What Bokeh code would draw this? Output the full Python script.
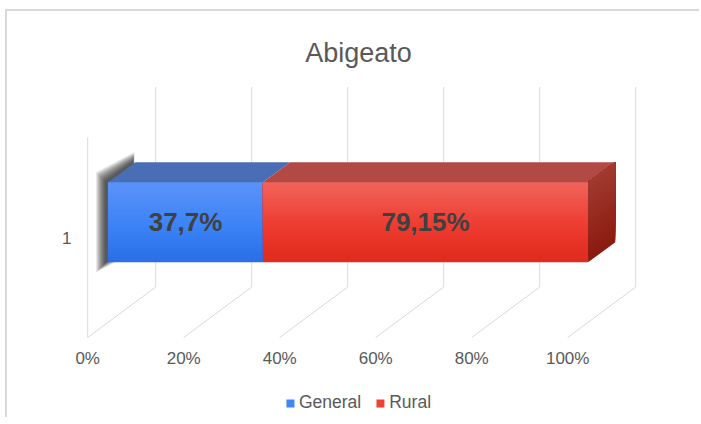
import numpy as np
from bokeh.plotting import figure
from bokeh.models import Range1d, FixedTicker, Legend, LegendItem, LinearAxis
from bokeh.embed import file_html
from bokeh.resources import INLINE
from bokeh.core.properties import value

# ---------------- data ----------------
title_text = "Abigeato"
categories = ["1"]
series_names = ["General", "Rural"]
general = [37.7]
rural = [79.15]
x_ticks = [0, 20, 40, 60, 80, 100]
x_tick_labels = ["0%", "20%", "40%", "60%", "80%", "100%"]

# ---------------- styles ----------------
FONT = "Liberation Sans"
TXT = "#595959"
GRID = "#d9d9d9"
front_stops = [  # (top, middle, bottom)
    ("#5c92f9", "#3b83f6", "#2a6de6"),
    ("#f0645b", "#ee3b30", "#df2a1d"),
]
top_face_colors = ["#4a6eb6", "#b14a45"]
side_stops = ("#a23a30", "#8a1a10")

# projection parameters (oblique 3D look)
PX = 4.8          # px per percent
PY = 200.0        # px per category unit
DX = 68 / PX      # full depth shift (x, data units)
DY = 50.5 / PY    # full depth shift (y, data units)
T0, T1 = 0.3, 0.7 # bar front / back depth fraction
BAR_H = 0.4
W, H = 694, 408
frame_w = 580
mb_left, mb_top = 61, 66
frame_h = H - mb_top
x_lo = -4.0
y_hi = 1.8

p = figure(width=W, height=H,
           x_range=Range1d(x_lo, x_lo + frame_w / PX),
           y_range=Range1d(y_hi - frame_h / PY, y_hi),
           output_backend="svg", toolbar_location=None,
           x_axis_type=None, y_axis_type=None,
           min_border_left=mb_left, min_border_right=W - mb_left - frame_w,
           min_border_top=mb_top, min_border_bottom=0,
           title=title_text)
p.xgrid.visible = False
p.ygrid.visible = False
p.outline_line_color = None
p.background_fill_color = "white"
p.border_fill_color = "white"
p.styles = {"border-left": "2px solid #d9d9d9", "border-top": "2px solid #d9d9d9",
            "margin-left": "5px", "margin-top": "9px"}

p.title.align = "center"
p.title.text_font = FONT
p.title.text_font_size = "27px"
p.title.text_font_style = "normal"
p.title.text_color = TXT
p.title.standoff = 19

def hex2rgb(h):
    h = h.lstrip("#")
    return np.array([int(h[i:i + 2], 16) for i in (0, 2, 4)], dtype=float)

def mix(c1, c2, f):
    c = hex2rgb(c1) * (1 - f) + hex2rgb(c2) * f
    return "#%02x%02x%02x" % tuple(int(round(v)) for v in c)

def grad3(top, mid, bot, f):  # f: 0 bottom .. 1 top
    if f < 0.45:
        return mix(bot, mid, f / 0.45)
    return mix(mid, top, (f - 0.45) / 0.55)

# ---------------- walls ----------------
lo_y, hi_y = 0.5, len(categories) + 0.5
tk = np.array(x_ticks, dtype=float)
p.segment(x0=tk + DX, y0=[lo_y + DY] * len(tk), x1=tk + DX, y1=[hi_y + DY] * len(tk),
          line_color=GRID, line_width=1)
p.segment(x0=tk, y0=[lo_y] * len(tk), x1=tk + DX, y1=[lo_y + DY] * len(tk),
          line_color=GRID, line_width=1)
p.segment(x0=[tk[0]], y0=[lo_y], x1=[tk[0]], y1=[hi_y], line_color=GRID, line_width=1)

# ---------------- bars ----------------
N = 30
values = np.array([general, rural], dtype=float)  # series x category
totals = values.sum(axis=0)
shares = values / totals * 100
cum = np.vstack([np.zeros(len(categories)), np.cumsum(shares, axis=0)])
front_renderers = []

for ci, cat in enumerate(categories):
    c = ci + 1
    yb = c - BAR_H / 2
    yt = c + BAR_H / 2
    # soft shadow around the left side face
    fbx, fby = cum[0, ci] + T0 * DX, yb + T0 * DY
    ftx, fty = cum[0, ci] + T0 * DX, yt + T0 * DY
    btx, bty = cum[0, ci] + T1 * DX, yt + T1 * DY
    bbx, bby = cum[0, ci] + T1 * DX, yb + T1 * DY
    sh_xs, sh_ys = [], []
    for e in [10, 9, 8, 7, 6, 5, 4, 3, 2, 1]:
        ex, ey = e / PX, e / PY
        sx = -2.0 / PX
        sh_xs.append([fbx - ex + sx, ftx - ex + sx, btx + 0.1 * ex + sx, bbx + 0.1 * ex + sx])
        sh_ys.append([fby - ey, fty + ey, bty + ey, bby - ey])
    p.patches(xs=sh_xs, ys=sh_ys, fill_color="#111111", fill_alpha=0.11, line_color=None)

    for si in range(len(series_names)):
        s0, s1 = cum[si, ci], cum[si + 1, ci]
        h = BAR_H
        lefts = [s0 + T0 * DX] * N
        rights = [s1 + T0 * DX] * N
        bottoms = [yb + T0 * DY + k * h / N for k in range(N)]
        tops = [yt + T0 * DY] * N
        cols = [grad3(*front_stops[si], (k + 0.5) / N) for k in range(N)]
        r = p.quad(left=lefts, right=rights, bottom=bottoms, top=tops,
                   fill_color=cols, line_color=None)
        if ci == 0:
            front_renderers.append(r)
        p.patch(x=[s0 + T0 * DX, s1 + T0 * DX, s1 + T1 * DX, s0 + T1 * DX],
                y=[yt + T0 * DY, yt + T0 * DY, yt + T1 * DY, yt + T1 * DY],
                fill_color=top_face_colors[si], line_color=None)

    send = cum[-1, ci]
    xs_side, ys_side, cols_side = [], [], []
    for k in range(N):
        yk = yb + k * BAR_H / N
        xs_side.append([send + T0 * DX, send + T0 * DX, send + T1 * DX, send + T1 * DX])
        ys_side.append([yk + T0 * DY, yt + T0 * DY, yt + T1 * DY, yk + T1 * DY])
        cols_side.append(mix(side_stops[1], side_stops[0], (k + 0.5) / N))
    p.patches(xs=xs_side, ys=ys_side, fill_color=cols_side, line_color=None)

    lab_x, lab_y, lab_t = [], [], []
    for si, vals in enumerate([general, rural]):
        lab_x.append((cum[si, ci] + cum[si + 1, ci]) / 2 + T0 * DX)
        lab_y.append(c + T0 * DY)
        lab_t.append(("%g" % vals[ci]).replace(".", ",") + "%")
    p.text(x=lab_x, y=lab_y, text=lab_t, text_font=value(FONT), text_font_style="bold",
           text_font_size="26px", text_color="#404040", text_align="center",
           text_baseline="middle")

# ---------------- axes ----------------
xaxis = LinearAxis(ticker=FixedTicker(ticks=x_ticks), fixed_location=lo_y,
                   major_label_overrides=dict(zip(x_ticks, x_tick_labels)))
xaxis.axis_line_color = None
xaxis.major_tick_line_color = None
xaxis.minor_tick_line_color = None
xaxis.major_label_standoff = 5
xaxis.major_label_text_font = FONT
xaxis.major_label_text_font_size = "17px"
xaxis.major_label_text_color = TXT
p.add_layout(xaxis, "below")

y_ticks = [i + 1 for i in range(len(categories))]
yaxis = LinearAxis(ticker=FixedTicker(ticks=y_ticks),
                   major_label_overrides=dict(zip(y_ticks, categories)))
yaxis.axis_line_color = None
yaxis.major_tick_line_color = None
yaxis.minor_tick_line_color = None
yaxis.major_label_standoff = -9
yaxis.major_label_text_font = FONT
yaxis.major_label_text_font_size = "17px"
yaxis.major_label_text_color = TXT
yaxis.major_label_orientation = "horizontal"
p.add_layout(yaxis, "left")

# ---------------- legend ----------------
items = [LegendItem(label=name, renderers=[r], index=N // 2)
         for name, r in zip(series_names, front_renderers)]
legend = Legend(items=items, orientation="horizontal", location="bottom_center",
                margin=6, padding=0, glyph_width=10, glyph_height=10,
                label_standoff=4, spacing=14, label_text_font=FONT,
                label_text_font_size="17.5px", label_text_color=TXT,
                background_fill_alpha=0, border_line_color=None)
p.add_layout(legend)

open("out.html", "w").write(file_html(p, INLINE))
